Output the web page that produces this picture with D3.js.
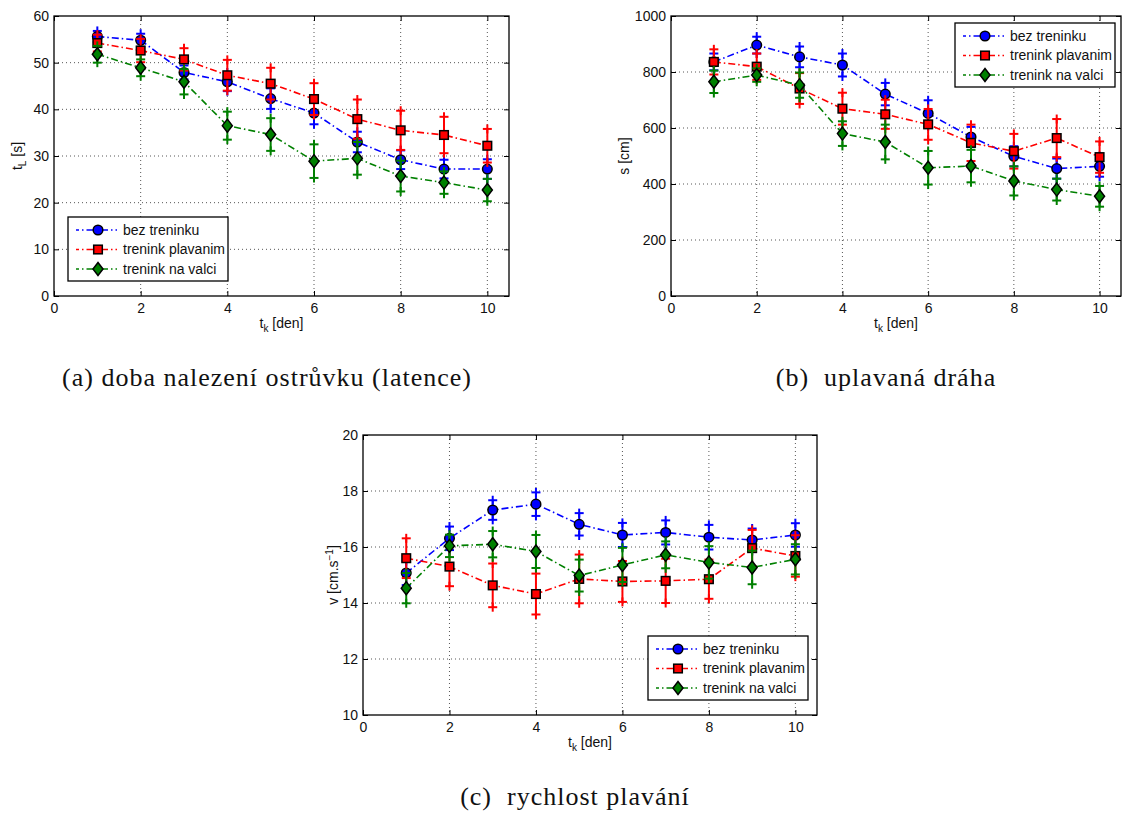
<!DOCTYPE html>
<meta charset="utf-8">
<script src="https://d3js.org/d3.v7.min.js"></script>
<style>
  body { margin: 0; background: #fff; }
  text { font-family: "Liberation Sans", Arial, sans-serif; }
  .caption { font-family: "Liberation Serif", "DejaVu Serif", serif; }
</style>
<div id="chart"></div>
<script>

// ---- data ----
var days = [1, 2, 3, 4, 5, 6, 7, 8, 9, 10];
var seriesNames = ["bez treninku", "trenink plavanim", "trenink na valci"];
var seriesColors = ["#0000ff", "#ff0000", "#008000"];
var seriesMarkers = ["circle", "square", "diamond"];

// (a) latence t_L [s]
var latBez = [55.6, 54.8, 47.9, 45.9, 42.3, 39.2, 33.0, 29.2, 27.2, 27.2];
var latBezErr = [1.2, 1.4, 1.5, 2.0, 2.2, 2.4, 2.2, 2.0, 2.0, 2.1];
var latPlav = [54.2, 52.6, 50.7, 47.3, 45.5, 42.2, 37.9, 35.5, 34.5, 32.2];
var latPlavErr = [1.8, 2.5, 2.4, 3.3, 3.4, 3.4, 4.2, 4.2, 3.9, 3.6];
var latValci = [51.8, 48.9, 45.9, 36.5, 34.6, 28.9, 29.5, 25.7, 24.3, 22.7];
var latValciErr = [1.8, 1.8, 2.7, 3.0, 3.5, 3.6, 3.5, 3.3, 2.4, 2.4];

// (b) draha s [cm]
var drBez = [836, 896, 854, 825, 721, 652, 568, 499, 455, 463];
var drBezErr = [30, 30, 37, 41, 40, 47, 36, 36, 36, 37];
var drPlav = [836, 819, 741, 669, 649, 613, 547, 517, 564, 496];
var drPlavErr = [45, 47, 55, 57, 52, 55, 65, 62, 68, 56];
var drValci = [765, 789, 753, 580, 550, 458, 464, 411, 380, 356];
var drValciErr = [40, 24, 45, 44, 62, 60, 58, 52, 39, 37];

// (c) rychlost v [cm/s]
var rBez = [15.07, 16.31, 17.32, 17.53, 16.81, 16.43, 16.52, 16.35, 16.25, 16.43];
var rBezErr = [0.43, 0.42, 0.35, 0.42, 0.40, 0.43, 0.43, 0.44, 0.41, 0.42];
var rPlav = [15.60, 15.30, 14.63, 14.32, 14.86, 14.77, 14.79, 14.85, 15.96, 15.68];
var rPlavErr = [0.71, 0.70, 0.78, 0.73, 0.87, 0.73, 0.79, 0.70, 0.65, 0.74];
var rValci = [14.53, 16.04, 16.10, 15.84, 14.98, 15.36, 15.72, 15.45, 15.27, 15.56];
var rValciErr = [0.54, 0.40, 0.47, 0.59, 0.57, 0.61, 0.48, 0.58, 0.60, 0.54];

var xTicks = [0, 2, 4, 6, 8, 10];
var latTicks = [0, 10, 20, 30, 40, 50, 60];
var drTicks = [0, 200, 400, 600, 800, 1000];
var rTicks = [10, 12, 14, 16, 18, 20];

var captions = ["(a) doba nalezení ostrůvku (latence)", "(b)  uplavaná dráha", "(c)  rychlost plavání"];

var FS = 14; // label font size

// ---- svg ----
var svg = d3.select("#chart")
  .append("svg")
    .attr("width", 1128)
    .attr("height", 813);

svg.append("rect").attr("width", 1128).attr("height", 813).attr("fill", "#fff");

// one panel: box, grid, ticks, error bars, lines, markers, legend
function drawPanel(p) {
  var g = svg.append("g").attr("transform", "translate(" + p.left + "," + p.top + ")");
  var w = p.width, h = p.height;

  var x = d3.scaleLinear().domain([0, 10.5]).range([0, w]);
  var y = d3.scaleLinear().domain(p.yDomain).range([h, 0]);

  // grid (dotted)
  g.selectAll(".gx").data(xTicks.filter(function(d) { return d > 0; })).enter()
    .append("line")
      .attr("x1", function(d) { return x(d); }).attr("x2", function(d) { return x(d); })
      .attr("y1", 0).attr("y2", h)
      .attr("stroke", "#444").attr("stroke-width", 0.9).attr("stroke-dasharray", "1,3");
  g.selectAll(".gy").data(p.yTicks.slice(1, -1)).enter()
    .append("line")
      .attr("x1", 0).attr("x2", w)
      .attr("y1", function(d) { return y(d); }).attr("y2", function(d) { return y(d); })
      .attr("stroke", "#444").attr("stroke-width", 0.9).attr("stroke-dasharray", "1,3");

  // axes with inner ticks on all four sides
  var axB = g.append("g").attr("transform", "translate(0," + h + ")")
    .call(d3.axisBottom(x).tickValues(xTicks).tickSizeInner(-5).tickSizeOuter(0).tickPadding(7));
  var axT = g.append("g")
    .call(d3.axisTop(x).tickValues(xTicks).tickSizeInner(-5).tickSizeOuter(0).tickFormat(""));
  var axL = g.append("g")
    .call(d3.axisLeft(y).tickValues(p.yTicks).tickSizeInner(-5).tickSizeOuter(0)
      .tickPadding(5).tickFormat(d3.format("d")));
  var axR = g.append("g").attr("transform", "translate(" + w + ",0)")
    .call(d3.axisRight(y).tickValues(p.yTicks).tickSizeInner(-5).tickSizeOuter(0).tickFormat(""));
  [axB, axT, axL, axR].forEach(function(a) {
    a.select(".domain").remove();
    a.selectAll("line").attr("stroke", "#000").attr("stroke-width", 1);
    a.selectAll("text").attr("font-size", FS).attr("fill", "#111")
      .attr("font-family", "Liberation Sans, Arial, sans-serif");
  });
  axB.selectAll("text").attr("dy", "0.71em");

  g.append("rect").attr("width", w).attr("height", h)
    .attr("fill", "none").attr("stroke", "#000").attr("stroke-width", 1.3);

  // axis labels
  var xl = g.append("text")
    .attr("x", w / 2).attr("y", h + 32)
    .attr("text-anchor", "middle").attr("font-size", FS).attr("fill", "#111");
  xl.append("tspan").text("t");
  xl.append("tspan").attr("dy", 4).attr("font-size", 10).text("k");
  xl.append("tspan").attr("dy", -4).text(" [den]");

  var yl = g.append("text")
    .attr("transform", "translate(" + (-p.yLabelOffset) + "," + (h / 2) + ") rotate(-90)")
    .attr("text-anchor", "middle").attr("font-size", FS).attr("fill", "#111");
  p.yLabel(yl);

  // series
  p.series.forEach(function(s, i) {
    var col = seriesColors[i];
    var pts = days.map(function(d, k) { return { d: d, v: s.values[k], e: s.err[k] }; });
    var sg = g.append("g");

    // error bars with + ends
    pts.forEach(function(pt) {
      var cx = x(pt.d), y1 = y(pt.v - pt.e), y2 = y(pt.v + pt.e);
      sg.append("line").attr("x1", cx).attr("x2", cx).attr("y1", y1).attr("y2", y2)
        .attr("stroke", col).attr("stroke-width", 2);
      [y1, y2].forEach(function(yy) {
        sg.append("line").attr("x1", cx - 4.5).attr("x2", cx + 4.5).attr("y1", yy).attr("y2", yy)
          .attr("stroke", col).attr("stroke-width", 2);
        sg.append("line").attr("x1", cx).attr("x2", cx).attr("y1", yy - 4.5).attr("y2", yy + 4.5)
          .attr("stroke", col).attr("stroke-width", 2);
      });
    });

    // dash-dot line
    sg.append("path").datum(pts)
      .attr("d", d3.line().x(function(d) { return x(d.d); }).y(function(d) { return y(d.v); }))
      .attr("fill", "none").attr("stroke", col).attr("stroke-width", 1.6)
      .attr("stroke-dasharray", "7,3,1.5,3");

    pts.forEach(function(pt) {
      drawMarker(sg, seriesMarkers[i], x(pt.d), y(pt.v), col);
    });
  });

  // legend
  var lg = svg.append("g").attr("transform", "translate(" + p.legend[0] + "," + p.legend[1] + ")");
  lg.append("rect").attr("width", 160).attr("height", 64)
    .attr("fill", "#fff").attr("stroke", "#000").attr("stroke-width", 1.3);
  seriesNames.forEach(function(name, i) {
    var ly = 13 + i * 19.5;
    lg.append("line").attr("x1", 8).attr("x2", 49).attr("y1", ly).attr("y2", ly)
      .attr("stroke", seriesColors[i]).attr("stroke-width", 1.6)
      .attr("stroke-dasharray", "7,3,1.5,3").attr("stroke-dashoffset", 4);
    drawMarker(lg, seriesMarkers[i], 30, ly, seriesColors[i]);
    lg.append("text").attr("x", 55).attr("y", ly).attr("dy", "0.35em")
      .attr("font-size", FS).attr("fill", "#111").text(name);
  });
}

function drawMarker(sel, type, cx, cy, col) {
  if (type === "circle") {
    sel.append("circle").attr("cx", cx).attr("cy", cy).attr("r", 4.8)
      .attr("fill", col).attr("stroke", "#000").attr("stroke-width", 1.5);
  } else if (type === "square") {
    sel.append("rect").attr("x", cx - 4.3).attr("y", cy - 4.3).attr("width", 8.6).attr("height", 8.6)
      .attr("fill", col).attr("stroke", "#000").attr("stroke-width", 1.5);
  } else {
    sel.append("path")
      .attr("d", "M" + cx + "," + (cy - 6.5) + "L" + (cx + 5) + "," + cy + "L" + cx + "," + (cy + 6.5) +
                 "L" + (cx - 5) + "," + cy + "Z")
      .attr("fill", col).attr("stroke", "#000").attr("stroke-width", 1.5);
  }
}

// (a)
drawPanel({
  left: 54, top: 16, width: 455, height: 280,
  yDomain: [0, 60], yTicks: latTicks, yLabelOffset: 32,
  yLabel: function(t) {
    t.append("tspan").text("t");
    t.append("tspan").attr("dy", 4).attr("font-size", 10).text("L");
    t.append("tspan").attr("dy", -4).text(" [s]");
  },
  series: [
    { values: latBez, err: latBezErr },
    { values: latPlav, err: latPlavErr },
    { values: latValci, err: latValciErr }
  ],
  legend: [68, 217]
});

// (b)
drawPanel({
  left: 671, top: 16, width: 450, height: 280,
  yDomain: [0, 1000], yTicks: drTicks, yLabelOffset: 42,
  yLabel: function(t) { t.text("s [cm]"); },
  series: [
    { values: drBez, err: drBezErr },
    { values: drPlav, err: drPlavErr },
    { values: drValci, err: drValciErr }
  ],
  legend: [955, 23]
});

// (c)
drawPanel({
  left: 363, top: 435, width: 454, height: 280,
  yDomain: [10, 20], yTicks: rTicks, yLabelOffset: 25,
  yLabel: function(t) {
    t.append("tspan").text("v [cm.s");
    t.append("tspan").attr("dy", -5).attr("font-size", 10).text("−1");
    t.append("tspan").attr("dy", 5).text("]");
  },
  series: [
    { values: rBez, err: rBezErr },
    { values: rPlav, err: rPlavErr },
    { values: rValci, err: rValciErr }
  ],
  legend: [648, 636]
});

// captions
var capPos = [[267, 386], [886, 386], [575, 805]];
captions.forEach(function(c, i) {
  svg.append("text").attr("class", "caption")
    .attr("x", capPos[i][0]).attr("y", capPos[i][1])
    .attr("text-anchor", "middle").attr("font-size", 26)
    .attr("letter-spacing", 1)
    .attr("fill", "#111")
    .style("white-space", "pre")
    .text(c);
});

</script>
